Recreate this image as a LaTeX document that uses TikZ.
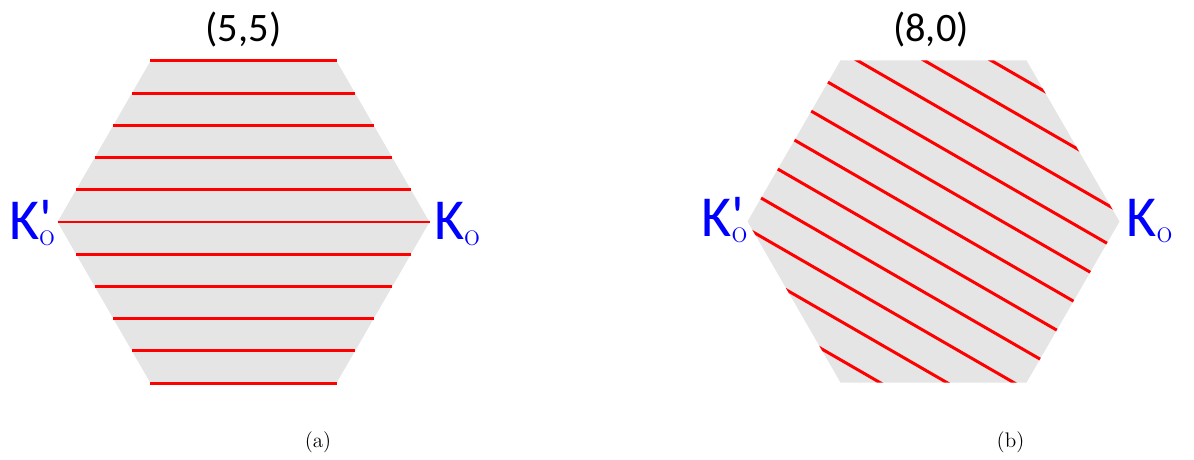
\documentclass[tikz,border=0pt]{standalone}
\usepackage{fontspec}
\newfontfamily\labelfont{Carlito}[Ligatures=TeXOff]
\usetikzlibrary{positioning, calc}
\newcommand{\valley}[1]{K\rlap{#1}\raisebox{-3.2pt}{\rmfamily\fontsize{19}{19}\selectfont o}}

\begin{document}
\begin{tikzpicture}[
  zone/.style={fill=black!10},
  cut/.style={red, line width=1.7pt},
  valleylabel/.style={inner sep=0pt, text=blue, font=\labelfont\fontsize{33}{33}\selectfont},
  chiral/.style={inner sep=0pt, anchor=base, font=\labelfont\fontsize{23}{23}\selectfont},
  subcap/.style={inner sep=0pt, anchor=base, font=\fontsize{12}{14}\selectfont}
]
  \useasboundingbox (0,0) rectangle (23.88,9.18);

  % (a) armchair tube
  \begin{scope}[shift={(4.87,4.74)}]
    \fill[zone] (0:3.72) -- (60:3.72) -- (120:3.72) -- (180:3.72) -- (240:3.72) -- (300:3.72) -- cycle;
    \foreach \k in {-5,...,5} {
      \pgfmathsetmacro{\yy}{\k*0.6443}
      \pgfmathsetmacro{\xx}{3.72-abs(\yy)/sqrt(3)}
      \draw[cut] (-\xx,\yy) -- (\xx,\yy);
    }
  \end{scope}
  \node[valleylabel, anchor=base east] (kpa) at (1.10,4.38) {\valley{'}};
  \node[valleylabel, anchor=base west] (ka) at (8.68,4.38) {\valley{}};
  \node[chiral] (ta) at (4.87,8.35) {(5,5)};
  \node[subcap] (capa) at (6.36,0.23) {(a)};

  % (b) zigzag tube
  \begin{scope}[shift={(18.67,4.75)}]
    \fill[zone] (0:3.72) -- (60:3.72) -- (120:3.72) -- (180:3.72) -- (240:3.72) -- (300:3.72) -- cycle;
    \clip (0:3.72) -- (60:3.72) -- (120:3.72) -- (180:3.72) -- (240:3.72) -- (300:3.72) -- cycle;
    \foreach \k in {-5,...,5}
      \draw[cut] (60:\k*0.669+0.02) ++(150:4) -- ++(-30:8);
  \end{scope}
  \node[valleylabel, anchor=base east] (kpb) at (14.95,4.45) {\valley{'}};
  \node[valleylabel, anchor=base west] (kb) at (22.53,4.45) {\valley{}};
  \node[chiral] (tb) at (18.62,8.35) {(8,0)};
  \node[subcap] (capb) at (20.21,0.23) {(b)};
\end{tikzpicture}
\end{document}
